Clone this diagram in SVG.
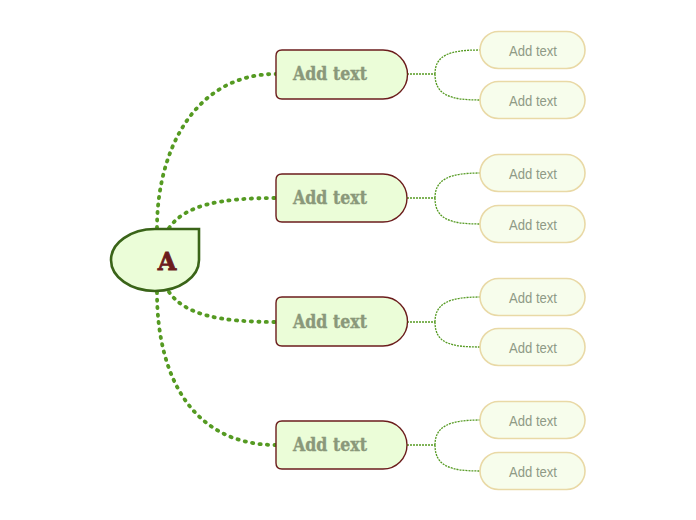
<svg xmlns="http://www.w3.org/2000/svg" width="696" height="520" viewBox="0 0 696 520">
<style>
.main{fill:#ebfdd8;stroke:#6b1c1c;stroke-width:1.4}
.sub{fill:#f7fdec;stroke:#e9d9a6;stroke-width:1.6}
.mt{font-family:"DejaVu Serif",serif;font-weight:900;font-size:18px;fill:#8a987a;stroke:#8a987a;stroke-width:0.4}
.st{font-family:"Liberation Sans",sans-serif;font-size:15px;fill:#8f9a86;text-anchor:middle}
.big{fill:none;stroke:#559a22;stroke-width:3.8;stroke-linecap:round;stroke-dasharray:1.2 6.3}
.small{fill:none;stroke:#559a22;stroke-width:1.3;stroke-dasharray:2 1}
</style>
<rect width="696" height="520" fill="#ffffff"/>
<g id="connectors">
<path class="big" d="M157,228 C157,150 195,74 276,74"/>
<path class="big" d="M169,228 C185,205 220,198 276,198"/>
<path class="big" d="M169,292 C185,315 220,322 276,322"/>
<path class="big" d="M157,292 C157,380 195,445 276,445"/>
<path class="small" d="M407,74 H435 M435,74 C435,55 450,50 480,50 M435,74 C435,95 450,100 480,100"/>
<path class="small" d="M407,198 H435 M435,198 C435,179 450,173 480,173 M435,198 C435,219 450,224 480,224"/>
<path class="small" d="M407,322 H435 M435,322 C435,303 450,297 480,297 M435,322 C435,343 450,347 480,347"/>
<path class="small" d="M407,445 H435 M435,445 C435,426 450,420 480,420 M435,445 C435,466 450,471 480,471"/>
</g>
<g id="center">
<path d="M155,229 L199,229 L199,260 A44,31 0 0 1 155,291 A44,31 0 0 1 111,260 A44,31 0 0 1 155,229 Z" fill="#ebfdd8" stroke="#3a6418" stroke-width="2.6"/>
<text x="167" y="270" text-anchor="middle" font-family="DejaVu Serif,serif" font-weight="bold" font-size="24" fill="#6b1c1c" stroke="#6b1c1c" stroke-width="0.8">A</text>
</g>
<g id="n1"><path class="main" d="M282,50 L383,50 A24.5,24.5 0 0 1 383,99 L282,99 Q276,99 276,93 L276,56 Q276,50 282,50 Z"/><text class="mt" x="293" y="80" textLength="74" lengthAdjust="spacingAndGlyphs">Add text</text></g>
<g id="n2"><path class="main" d="M282,174 L383,174 A24,24 0 0 1 383,222 L282,222 Q276,222 276,216 L276,180 Q276,174 282,174 Z"/><text class="mt" x="293" y="204" textLength="74" lengthAdjust="spacingAndGlyphs">Add text</text></g>
<g id="n3"><path class="main" d="M282,297 L383,297 A24.5,24.5 0 0 1 383,346 L282,346 Q276,346 276,340 L276,303 Q276,297 282,297 Z"/><text class="mt" x="293" y="328" textLength="74" lengthAdjust="spacingAndGlyphs">Add text</text></g>
<g id="n4"><path class="main" d="M282,421 L383,421 A24,24 0 0 1 383,469 L282,469 Q276,469 276,463 L276,427 Q276,421 282,421 Z"/><text class="mt" x="293" y="451" textLength="74" lengthAdjust="spacingAndGlyphs">Add text</text></g>
<g id="s1a"><rect class="sub" x="480" y="31.5" width="105" height="37" rx="18.5"/><text class="st" x="533" y="55.5" textLength="48" lengthAdjust="spacingAndGlyphs">Add text</text></g>
<g id="s1b"><rect class="sub" x="480" y="81.5" width="105" height="37" rx="18.5"/><text class="st" x="533" y="105.5" textLength="48" lengthAdjust="spacingAndGlyphs">Add text</text></g>
<g id="s2a"><rect class="sub" x="480" y="154.5" width="105" height="37" rx="18.5"/><text class="st" x="533" y="178.5" textLength="48" lengthAdjust="spacingAndGlyphs">Add text</text></g>
<g id="s2b"><rect class="sub" x="480" y="205.5" width="105" height="37" rx="18.5"/><text class="st" x="533" y="229.5" textLength="48" lengthAdjust="spacingAndGlyphs">Add text</text></g>
<g id="s3a"><rect class="sub" x="480" y="278.5" width="105" height="37" rx="18.5"/><text class="st" x="533" y="302.5" textLength="48" lengthAdjust="spacingAndGlyphs">Add text</text></g>
<g id="s3b"><rect class="sub" x="480" y="328.5" width="105" height="37" rx="18.5"/><text class="st" x="533" y="352.5" textLength="48" lengthAdjust="spacingAndGlyphs">Add text</text></g>
<g id="s4a"><rect class="sub" x="480" y="401.5" width="105" height="37" rx="18.5"/><text class="st" x="533" y="425.5" textLength="48" lengthAdjust="spacingAndGlyphs">Add text</text></g>
<g id="s4b"><rect class="sub" x="480" y="452.5" width="105" height="37" rx="18.5"/><text class="st" x="533" y="476.5" textLength="48" lengthAdjust="spacingAndGlyphs">Add text</text></g>
</svg>
